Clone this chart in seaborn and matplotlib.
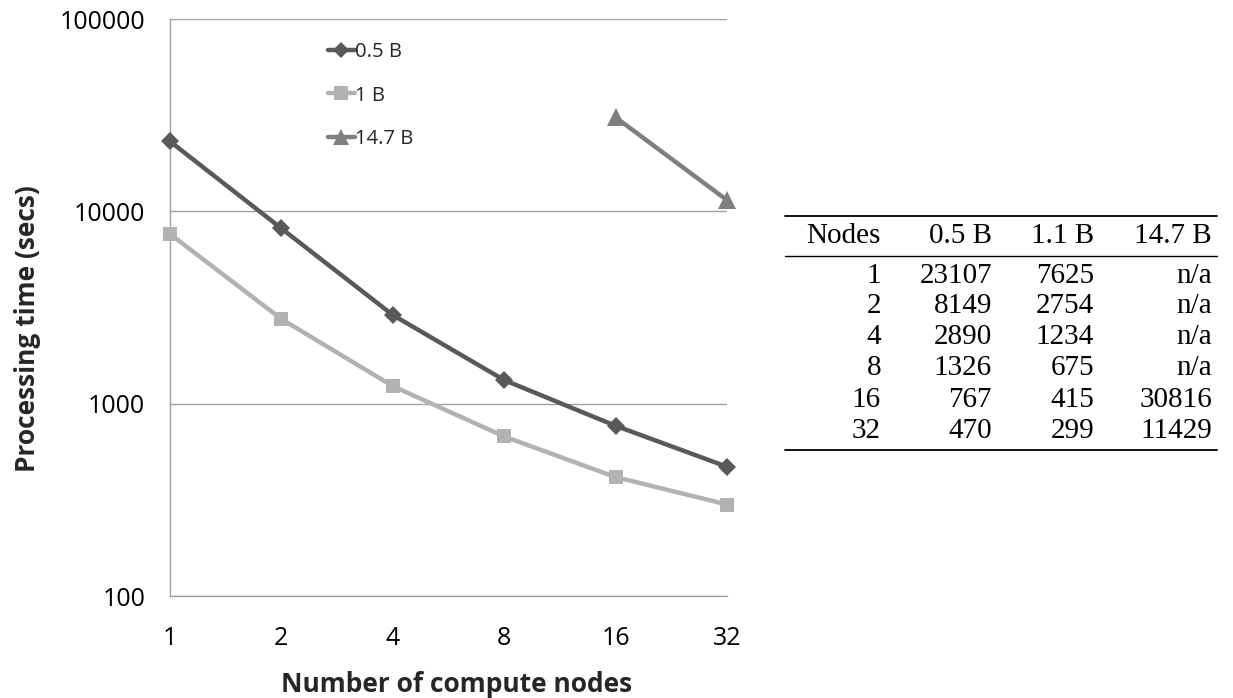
import numpy as np
import pandas as pd
import matplotlib
matplotlib.use("Agg")
import matplotlib.pyplot as plt
from matplotlib.lines import Line2D
import seaborn as sns

nodes = [1, 2, 4, 8, 16, 32]
tick_labels = ["1", "2", "4", "8", "16", "32"]
series_names = ["0.5 B", "1 B", "14.7 B"]
vals_05 = [23107, 8149, 2890, 1326, 767, 470]
vals_1 = [7625, 2754, 1234, 675, 415, 299]
vals_147 = [np.nan, np.nan, np.nan, np.nan, 30816, 11429]

table_header = ["Nodes", "0.5 B", "1.1 B", "14.7 B"]
table_147 = ["n/a", "n/a", "n/a", "n/a", "30816", "11429"]

sns.set_theme(style="white")
plt.rcParams["font.family"] = ["Open Sans", "DejaVu Sans"]

rows = []
for name, vals in zip(series_names, [vals_05, vals_1, vals_147]):
    for n, v in zip(nodes, vals):
        rows.append({"nodes": n, "time": v, "series": name})
df = pd.DataFrame(rows)

colors = {"0.5 B": "#595959", "1 B": "#b2b2b2", "14.7 B": "#7f7f7f"}
markers = {"0.5 B": "D", "1 B": "s", "14.7 B": "^"}
msize = {"0.5 B": 9, "1 B": 10.5, "14.7 B": 12.5}

W, H = 1233, 698
fig = plt.figure(figsize=(12.33, 6.98), dpi=100)
ax = fig.add_axes([170/W, 1-596/H, (727-170)/W, (596-19)/H])

for name in series_names:
    sub = df[df["series"] == name]
    sns.lineplot(data=sub, x="nodes", y="time", ax=ax, color=colors[name],
                 marker=markers[name], markersize=msize[name], linewidth=3.2,
                 markeredgewidth=0, clip_on=False, label=name, zorder=3)

ax.set_xscale("log", base=2)
ax.set_yscale("log")
ax.set_xlim(1, 32)
ax.set_ylim(100, 100000)
ax.set_xticks(nodes)
ax.set_xticklabels(tick_labels)
ax.set_yticks([100, 1000, 10000, 100000])
ax.set_yticklabels(["100", "1000", "10000", "100000"])
ax.minorticks_off()
ax.yaxis.grid(True, color="#a0a0a0", linewidth=1)
ax.xaxis.grid(False)
for s in ["top", "right"]:
    ax.spines[s].set_visible(False)
for s in ["left", "bottom"]:
    ax.spines[s].set_color("#a0a0a0")
    ax.spines[s].set_linewidth(1)
ax.tick_params(axis="x", direction="out", length=5.8, width=1, color="#a0a0a0",
               labelsize=18, pad=16, labelcolor="black")
ax.tick_params(axis="y", direction="out", length=5.8, width=1, color="#a0a0a0",
               labelsize=18, pad=12, labelcolor="black")
ax.set_xlabel("Number of compute nodes", fontsize=19, fontweight="bold")
ax.set_ylabel("Processing time (secs)", fontsize=19, fontweight="bold")
ax.xaxis.label.set_va("baseline")
ax.xaxis.set_label_coords((457-170)/557, (596-692)/577)
ax.yaxis.label.set_va("center")
ax.yaxis.set_label_coords((28-170)/557, (596-329)/577)

handles = [Line2D([], [], color=colors[n], marker=markers[n], markersize=msize[n]*0.9,
                  linewidth=3.2, markeredgewidth=0) for n in series_names]
ax.legend(handles, series_names, loc="upper left", bbox_to_anchor=(0.25, 0.992),
          frameon=False, fontsize=14.6, handlelength=1.38, handletextpad=0.0,
          labelspacing=1.17, borderaxespad=0.5)

# table
tfont = dict(family=["Liberation Serif", "DejaVu Serif"], fontsize=21, color="black")
col_right = [881, 992, 1094, 1212]
def fx(x): return x / W
def fy(y): return 1 - y / H
for x, h in zip(col_right, table_header):
    fig.text(fx(x), fy(243), h, ha="right", va="baseline", **tfont)
row_base = [283, 313, 344, 375, 407, 438]
for i, y in enumerate(row_base):
    cells = [str(nodes[i]), str(vals_05[i]), str(vals_1[i]), table_147[i]]
    for x, c in zip(col_right, cells):
        fig.text(fx(x), fy(y), c, ha="right", va="baseline", **tfont)
for y, lw in [(216, 1.3), (256, 1.0), (450, 1.3)]:
    fig.add_artist(Line2D([fx(785), fx(1217)], [fy(y), fy(y)], color="black", linewidth=lw))

fig.savefig("out.png", dpi=100)
